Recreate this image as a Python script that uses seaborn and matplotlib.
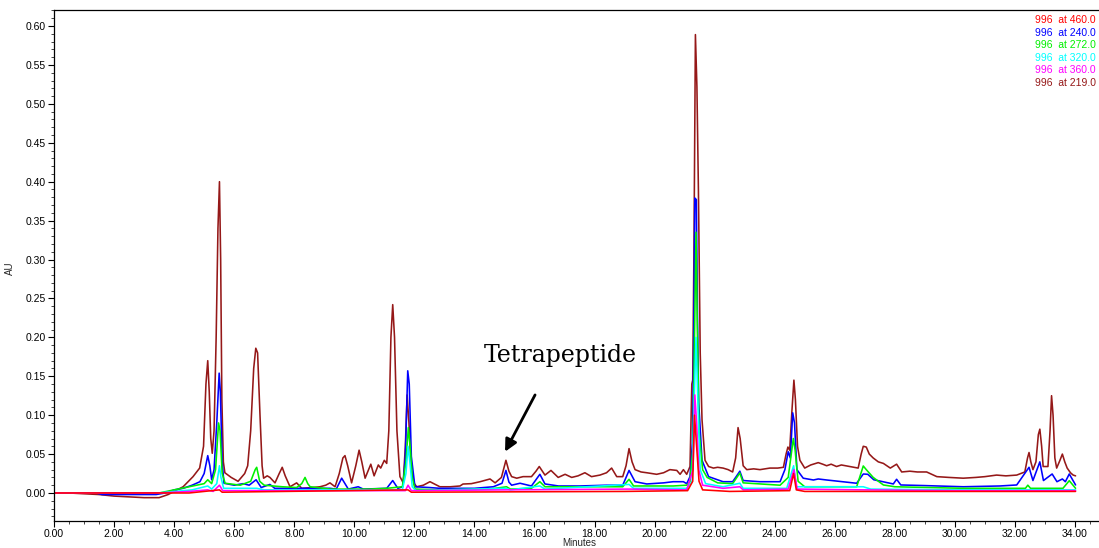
import numpy as np
import pandas as pd
import matplotlib
matplotlib.use("Agg")
import matplotlib.pyplot as plt
from matplotlib.ticker import MultipleLocator, FormatStrFormatter
import seaborn as sns

# ---------------- data (minutes, AU) ----------------
trace_219 = [(0.00, 0.000), (0.50, 0.000), (1.00, -0.001), (1.50, -0.002), (2.00, -0.004), (2.50, -0.005),
             (3.00, -0.006), (3.50, -0.006), (3.80, -0.002), (4.00, 0.002), (4.30, 0.008), (4.63, 0.021),
             (4.85, 0.032), (4.98, 0.060), (5.06, 0.140), (5.12, 0.170), (5.17, 0.130), (5.22, 0.070),
             (5.27, 0.051), (5.33, 0.080), (5.40, 0.200), (5.46, 0.340), (5.51, 0.400), (5.55, 0.300),
             (5.59, 0.120), (5.64, 0.040), (5.69, 0.026), (5.90, 0.020), (6.13, 0.015), (6.35, 0.025),
             (6.45, 0.035), (6.55, 0.080), (6.65, 0.160), (6.72, 0.186), (6.78, 0.180), (6.86, 0.100),
             (6.93, 0.035), (6.98, 0.019), (7.10, 0.022), (7.19, 0.020), (7.36, 0.013), (7.50, 0.025),
             (7.60, 0.033), (7.70, 0.022), (7.86, 0.008), (8.08, 0.013), (8.25, 0.006), (8.60, 0.007),
             (8.86, 0.008), (9.05, 0.010), (9.19, 0.013), (9.36, 0.008), (9.50, 0.025), (9.62, 0.045),
             (9.69, 0.048), (9.78, 0.035), (9.91, 0.013), (10.05, 0.035), (10.16, 0.055), (10.25, 0.040),
             (10.36, 0.019), (10.55, 0.037), (10.66, 0.022), (10.80, 0.036), (10.88, 0.032), (11.00, 0.042),
             (11.08, 0.038), (11.15, 0.080), (11.22, 0.200), (11.28, 0.242), (11.34, 0.200), (11.42, 0.080),
             (11.52, 0.021), (11.63, 0.013), (11.70, 0.060), (11.76, 0.126), (11.82, 0.090), (11.90, 0.030),
             (12.00, 0.012), (12.08, 0.008), (12.30, 0.010), (12.52, 0.0145), (12.85, 0.008), (13.20, 0.008),
             (13.52, 0.009), (13.62, 0.0115), (13.90, 0.012), (14.19, 0.0145), (14.52, 0.018), (14.69, 0.013),
             (14.90, 0.020), (15.05, 0.042), (15.15, 0.028), (15.24, 0.021), (15.41, 0.019), (15.62, 0.021),
             (15.90, 0.021), (16.05, 0.028), (16.16, 0.034), (16.35, 0.023), (16.55, 0.029), (16.79, 0.020),
             (17.02, 0.024), (17.24, 0.020), (17.45, 0.022), (17.68, 0.026), (17.90, 0.021), (18.18, 0.023),
             (18.40, 0.026), (18.57, 0.032), (18.74, 0.021), (18.94, 0.021), (19.05, 0.035), (19.15, 0.057),
             (19.25, 0.040), (19.35, 0.030), (19.55, 0.027), (19.74, 0.026), (20.07, 0.024), (20.30, 0.026),
             (20.51, 0.030), (20.74, 0.029), (20.85, 0.024), (20.96, 0.030), (21.07, 0.024), (21.18, 0.034),
             (21.24, 0.140), (21.27, 0.145), (21.31, 0.306), (21.36, 0.589), (21.41, 0.522), (21.46, 0.389),
             (21.52, 0.180), (21.58, 0.094), (21.68, 0.042), (21.80, 0.034), (21.96, 0.032), (22.10, 0.033),
             (22.28, 0.032), (22.45, 0.030), (22.60, 0.027), (22.70, 0.045), (22.78, 0.084), (22.85, 0.070),
             (22.95, 0.035), (23.07, 0.030), (23.30, 0.031), (23.51, 0.030), (23.84, 0.032), (24.10, 0.032),
             (24.29, 0.033), (24.38, 0.050), (24.44, 0.059), (24.50, 0.055), (24.57, 0.103), (24.64, 0.145),
             (24.69, 0.120), (24.76, 0.060), (24.84, 0.042), (25.00, 0.032), (25.20, 0.036), (25.45, 0.039),
             (25.60, 0.037), (25.73, 0.035), (25.88, 0.037), (26.06, 0.034), (26.22, 0.036), (26.50, 0.034),
             (26.78, 0.032), (26.88, 0.050), (26.95, 0.060), (27.05, 0.059), (27.15, 0.050), (27.28, 0.045),
             (27.45, 0.040), (27.62, 0.038), (27.85, 0.032), (28.06, 0.037), (28.23, 0.027), (28.50, 0.028),
             (28.75, 0.027), (29.06, 0.027), (29.40, 0.021), (29.80, 0.020), (30.28, 0.019), (30.70, 0.020),
             (31.00, 0.021), (31.39, 0.023), (31.70, 0.022), (32.06, 0.023), (32.33, 0.027), (32.42, 0.045),
             (32.47, 0.052), (32.53, 0.040), (32.60, 0.030), (32.70, 0.040), (32.78, 0.075), (32.83, 0.082),
             (32.89, 0.060), (32.94, 0.034), (33.10, 0.034), (33.17, 0.080), (33.22, 0.125), (33.27, 0.100),
             (33.33, 0.045), (33.39, 0.032), (33.50, 0.042), (33.58, 0.050), (33.66, 0.040), (33.74, 0.032),
             (33.85, 0.026), (33.94, 0.023), (34.02, 0.022)]

trace_240 = [(0.00, 0.000), (1.40, 0.000), (1.60, -0.002), (3.40, -0.002), (3.70, 0.000), (4.00, 0.004),
             (4.30, 0.006), (4.60, 0.010), (4.86, 0.0145), (5.00, 0.025), (5.12, 0.048), (5.19, 0.035),
             (5.25, 0.017), (5.33, 0.030), (5.42, 0.090), (5.50, 0.154), (5.54, 0.130), (5.60, 0.040),
             (5.66, 0.0125), (6.00, 0.010), (6.30, 0.012), (6.50, 0.010), (6.73, 0.017), (6.90, 0.007),
             (7.19, 0.011), (7.35, 0.006), (8.00, 0.006), (9.19, 0.006), (9.40, 0.005), (9.58, 0.019),
             (9.80, 0.005), (10.13, 0.008), (10.30, 0.005), (11.08, 0.006), (11.28, 0.016), (11.45, 0.006),
             (11.62, 0.008), (11.70, 0.047), (11.78, 0.157), (11.83, 0.140), (11.90, 0.047), (12.02, 0.008),
             (12.50, 0.007), (12.85, 0.006), (14.00, 0.006), (14.63, 0.008), (14.92, 0.0125), (15.05, 0.029),
             (15.15, 0.014), (15.24, 0.010), (15.52, 0.0125), (15.90, 0.009), (16.18, 0.024), (16.35, 0.0116),
             (16.80, 0.009), (17.50, 0.009), (18.40, 0.010), (18.94, 0.010), (19.15, 0.029), (19.35, 0.0145),
             (19.74, 0.0116), (20.30, 0.013), (20.62, 0.0145), (20.96, 0.0145), (21.07, 0.012), (21.18, 0.021),
             (21.26, 0.064), (21.30, 0.180), (21.34, 0.379), (21.39, 0.377), (21.43, 0.222), (21.47, 0.116),
             (21.58, 0.042), (21.80, 0.021), (22.28, 0.0145), (22.60, 0.0145), (22.70, 0.020), (22.84, 0.028),
             (22.95, 0.016), (23.50, 0.0145), (24.18, 0.0145), (24.34, 0.030), (24.45, 0.053), (24.52, 0.045),
             (24.60, 0.103), (24.66, 0.090), (24.74, 0.030), (24.95, 0.019), (25.29, 0.0167), (25.45, 0.018),
             (25.73, 0.0167), (26.73, 0.0125), (26.95, 0.0244), (27.10, 0.024), (27.30, 0.017), (27.95, 0.0116),
             (28.06, 0.0176), (28.20, 0.0103), (29.00, 0.0095), (30.28, 0.008), (31.50, 0.009), (32.06, 0.0103),
             (32.47, 0.033), (32.60, 0.016), (32.83, 0.040), (32.95, 0.016), (33.24, 0.0244), (33.40, 0.0145),
             (33.58, 0.018), (33.68, 0.0145), (33.81, 0.0244), (34.02, 0.0103)]

trace_272 = [(0.00, 0.000), (3.50, 0.000), (4.00, 0.004), (4.50, 0.008), (5.00, 0.012), (5.12, 0.017),
             (5.25, 0.012), (5.38, 0.030), (5.48, 0.090), (5.53, 0.080), (5.60, 0.025), (5.70, 0.0125),
             (6.20, 0.010), (6.55, 0.015), (6.70, 0.030), (6.75, 0.033), (6.85, 0.015), (7.00, 0.010),
             (7.60, 0.008), (8.08, 0.007), (8.25, 0.012), (8.36, 0.020), (8.45, 0.012), (8.53, 0.008),
             (9.20, 0.005), (10.50, 0.005), (11.08, 0.006), (11.60, 0.008), (11.72, 0.040), (11.80, 0.084),
             (11.86, 0.060), (11.93, 0.020), (12.02, 0.005), (12.85, 0.004), (14.50, 0.005), (15.07, 0.008),
             (15.20, 0.005), (15.90, 0.006), (16.18, 0.0145), (16.35, 0.008), (18.94, 0.008), (19.15, 0.0176),
             (19.30, 0.009), (20.62, 0.009), (21.07, 0.010), (21.18, 0.0145), (21.28, 0.060), (21.33, 0.200),
             (21.38, 0.335), (21.43, 0.200), (21.48, 0.080), (21.60, 0.030), (21.75, 0.020), (22.10, 0.013),
             (22.60, 0.012), (22.84, 0.0257), (22.95, 0.013), (24.18, 0.010), (24.45, 0.020), (24.62, 0.070),
             (24.68, 0.055), (24.78, 0.015), (25.00, 0.008), (26.73, 0.008), (26.95, 0.0347), (27.05, 0.030),
             (27.28, 0.020), (27.62, 0.0103), (28.00, 0.008), (30.28, 0.006), (32.35, 0.006), (32.43, 0.010),
             (32.52, 0.006), (33.60, 0.006), (33.81, 0.0158), (34.02, 0.006)]

trace_320 = [(0.00, 0.000), (3.50, 0.000), (4.00, 0.002), (4.60, 0.004), (5.12, 0.009), (5.25, 0.005),
             (5.42, 0.012), (5.51, 0.035), (5.56, 0.020), (5.65, 0.006), (6.75, 0.006), (7.00, 0.004),
             (11.60, 0.004), (11.72, 0.025), (11.79, 0.060), (11.85, 0.040), (11.93, 0.008), (12.05, 0.003),
             (15.05, 0.006), (15.20, 0.004), (16.18, 0.009), (16.35, 0.005), (19.15, 0.011), (19.30, 0.006),
             (21.07, 0.006), (21.25, 0.015), (21.32, 0.120), (21.38, 0.200), (21.44, 0.120), (21.52, 0.030),
             (21.70, 0.012), (22.28, 0.008), (22.84, 0.0125), (22.95, 0.006), (24.40, 0.006), (24.63, 0.035),
             (24.72, 0.008), (26.95, 0.008), (27.20, 0.005), (30.00, 0.004), (34.02, 0.004)]

trace_360 = [(0.00, 0.000), (3.50, 0.000), (4.50, 0.002), (5.12, 0.004), (5.30, 0.002), (5.51, 0.010),
             (5.62, 0.003), (11.70, 0.003), (11.79, 0.010), (11.90, 0.003), (15.05, 0.004), (19.15, 0.005),
             (21.07, 0.004), (21.28, 0.030), (21.34, 0.126), (21.40, 0.090), (21.47, 0.030), (21.60, 0.010),
             (22.28, 0.006), (22.84, 0.008), (22.95, 0.004), (24.45, 0.005), (24.64, 0.030), (24.75, 0.005),
             (27.00, 0.004), (30.00, 0.003), (34.02, 0.003)]

trace_460 = [(0.00, 0.000), (4.50, 0.000), (5.51, 0.004), (5.60, 0.001), (11.79, 0.004), (11.90, 0.001),
             (19.00, 0.002), (21.10, 0.003), (21.27, 0.015), (21.33, 0.100), (21.40, 0.060), (21.48, 0.015),
             (21.60, 0.004), (22.50, 0.002), (24.50, 0.003), (24.63, 0.025), (24.72, 0.004), (25.00, 0.002),
             (34.02, 0.002)]

channels = ["219.0", "240.0", "272.0", "320.0", "360.0", "460.0"]          # draw order
legend_order = ["460.0", "240.0", "272.0", "320.0", "360.0", "219.0"]      # text order (top->bottom)
colors = {"460.0": "#FF0000", "240.0": "#0000FF", "272.0": "#00F000",
          "320.0": "#00FFFF", "360.0": "#FF00FF", "219.0": "#951818"}

x_ticks = np.arange(0, 34.01, 2.0)
y_ticks = np.arange(0, 0.601, 0.05)

# ---------------- build long table ----------------
frames = []
for ch, tr in zip(channels, [trace_219, trace_240, trace_272, trace_320, trace_360, trace_460]):
    arr = np.array(tr)
    frames.append(pd.DataFrame({"Minutes": arr[:, 0], "AU": arr[:, 1], "channel": ch}))
df = pd.concat(frames, ignore_index=True)

# ---------------- plot ----------------
sns.set_style("ticks")
plt.rcParams["font.family"] = ["Liberation Sans", "DejaVu Sans"]

fig = plt.figure(figsize=(10.99, 5.48), dpi=100)
ax = fig.add_axes([54 / 1099, 1 - 521 / 548, 1 - 54 / 1099, (521 - 10) / 548])

sns.lineplot(data=df, x="Minutes", y="AU", hue="channel", hue_order=channels,
             palette=colors, estimator=None, sort=False, legend=False,
             linewidth=1.15, ax=ax)

ax.set_xlim(0, 34.8)
ax.set_ylim(-0.036, 0.6206)

ax.set_xticks(x_ticks)
ax.set_yticks(y_ticks)
ax.xaxis.set_minor_locator(MultipleLocator(0.5))
ax.yaxis.set_minor_locator(MultipleLocator(0.01))
ax.xaxis.set_major_formatter(FormatStrFormatter("%.2f"))
ax.yaxis.set_major_formatter(FormatStrFormatter("%.2f"))
ax.tick_params(axis="both", which="major", labelsize=7.5, length=4, width=0.8,
               direction="out", colors="black", pad=2)
ax.tick_params(axis="both", which="minor", length=2, width=0.6, direction="out")

for s in ["left", "bottom", "top"]:
    ax.spines[s].set_visible(True)
    ax.spines[s].set_color("black")
    ax.spines[s].set_linewidth(0.9)
ax.spines["right"].set_visible(False)
ax.grid(False)

ax.set_ylabel("AU", fontsize=7)
ax.yaxis.set_label_coords(-0.037, 0.495)
ax.set_xlabel("Minutes", fontsize=7)
ax.xaxis.set_label_coords(0.503, -0.034)

# channel labels (top-right)
for i, ch in enumerate(legend_order):
    fig.text(0.997, 1 - (20 + 12.6 * i) / 548, f"996  at {ch}", ha="right", va="center",
             fontsize=7.5, color=colors[ch])

# annotation
ax.annotate("", xy=(15.02, 0.053), xytext=(16.02, 0.126),
            arrowprops=dict(arrowstyle="-|>", lw=2, color="black", mutation_scale=18,
                            shrinkA=0, shrinkB=0))
ax.text(16.85, 0.177, "Tetrapeptide", ha="center", va="center",
        family="DejaVu Serif", fontsize=17, color="black")

fig.savefig("out.png", dpi=100)
